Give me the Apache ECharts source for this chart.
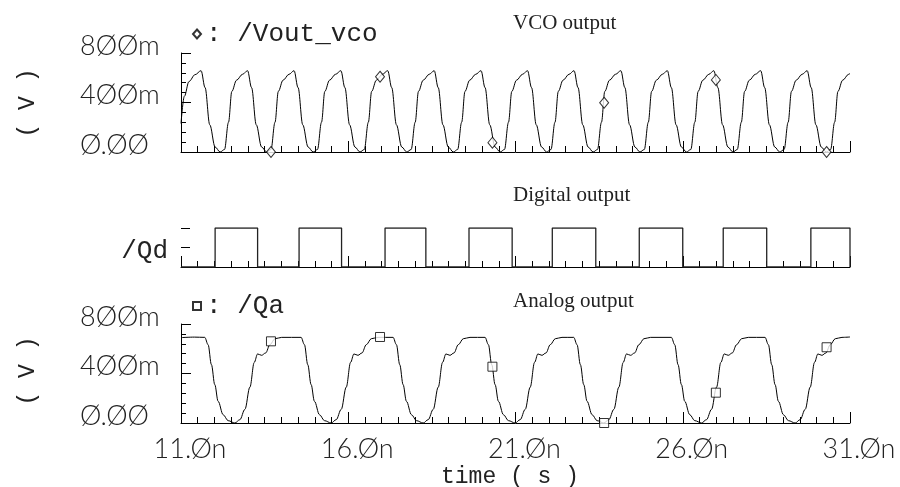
<!DOCTYPE html>
<html>
<head>
<meta charset="utf-8">
<script src="https://cdn.jsdelivr.net/npm/echarts@6.0.0/dist/echarts.min.js"></script>
<style>
html, body { margin: 0; padding: 0; background: #fff; }
#chart { width: 900px; height: 487px; }
</style>
</head>
<body>
<div id="chart"></div>
<script>
// time axis ticks (ns)
var timeTicks = [11, 16, 21, 26, 31];

// VCO output (ns, mV)
var vcoTime = [
  11.00, 11.10, 11.24, 11.42,
  11.60, 11.72, 11.86, 12.02, 12.17, 12.30, 12.42, 12.52, 12.66, 12.84,
  12.99, 13.11, 13.25, 13.41, 13.56, 13.69, 13.81, 13.91, 14.05, 14.23,
  14.38, 14.50, 14.64, 14.80, 14.95, 15.08, 15.20, 15.30, 15.44, 15.62,
  15.78, 15.90, 16.04, 16.20, 16.35, 16.48, 16.60, 16.70, 16.84, 17.02,
  17.18, 17.30, 17.44, 17.60, 17.75, 17.88, 18.00, 18.10, 18.24, 18.42,
  18.57, 18.69, 18.83, 18.99, 19.14, 19.27, 19.39, 19.49, 19.63, 19.81,
  19.97, 20.09, 20.23, 20.39, 20.54, 20.67, 20.79, 20.89, 21.03, 21.21,
  21.36, 21.48, 21.62, 21.78, 21.93, 22.06, 22.18, 22.28, 22.42, 22.60,
  22.75, 22.87, 23.01, 23.17, 23.32, 23.45, 23.57, 23.67, 23.81, 23.99,
  24.15, 24.27, 24.41, 24.57, 24.72, 24.85, 24.97, 25.07, 25.21, 25.39,
  25.54, 25.66, 25.80, 25.96, 26.11, 26.24, 26.36, 26.46, 26.60, 26.78,
  26.93, 27.05, 27.19, 27.35, 27.50, 27.63, 27.75, 27.85, 27.99, 28.17,
  28.33, 28.45, 28.59, 28.75, 28.90, 29.03, 29.15, 29.25, 29.39, 29.57,
  29.72, 29.84, 29.98, 30.14, 30.29, 30.42, 30.54, 30.64, 30.78, 30.96,
  31.00
];
var vcoVolt = [
  230, 450, 570, 625,
  657, 520, 220, 40, 0, 20, 240, 490, 580, 628,
  657, 520, 220, 40, 0, 20, 240, 490, 580, 628,
  657, 520, 220, 40, 0, 20, 240, 490, 580, 628,
  657, 520, 220, 40, 0, 20, 240, 490, 580, 628,
  657, 520, 220, 40, 0, 20, 240, 490, 580, 628,
  657, 520, 220, 40, 0, 20, 240, 490, 580, 628,
  657, 520, 220, 40, 0, 20, 240, 490, 580, 628,
  657, 520, 220, 40, 0, 20, 240, 490, 580, 628,
  657, 520, 220, 40, 0, 20, 240, 490, 580, 628,
  657, 520, 220, 40, 0, 20, 240, 490, 580, 628,
  657, 520, 220, 40, 0, 20, 240, 490, 580, 628,
  657, 520, 220, 40, 0, 20, 240, 490, 580, 628,
  657, 520, 220, 40, 0, 20, 240, 490, 580, 628,
  657, 520, 220, 40, 0, 20, 240, 490, 580, 628,
  635
];

// marker positions (same times on both analog panels)
var markTime = [13.69, 16.95, 20.31, 23.65, 26.99, 30.30];
var vcoMark = [0, 608, 75, 398, 582, 0];
var qaMark = [660, 695, 455, 0, 245, 612];

// Digital output: edge times and level after each edge
var qdTime = [11.00, 12.02, 13.29, 14.53, 15.80, 17.10, 18.32, 19.61, 20.90, 22.10, 23.40, 24.70, 26.00, 27.21, 28.51, 29.83, 31.00];
var qdLevel = [0, 1, 0, 1, 0, 1, 0, 1, 0, 1, 0, 1, 0, 1, 0, 1, 0];

// Analog output (ns, mV)
var qaTime = [
  11.00, 11.40,
  11.71, 11.81, 11.91, 12.01, 12.11, 12.26, 12.41, 12.61, 12.76, 12.91, 13.06, 13.19, 13.29, 13.41, 13.53, 13.66, 13.81, 14.01,
  14.59, 14.69, 14.79, 14.89, 14.99, 15.14, 15.29, 15.49, 15.64, 15.79, 15.94, 16.07, 16.17, 16.29, 16.41, 16.54, 16.69, 16.89,
  17.34, 17.44, 17.54, 17.64, 17.74, 17.89, 18.04, 18.24, 18.39, 18.54, 18.69, 18.82, 18.92, 19.04, 19.16, 19.29, 19.44, 19.64,
  20.09, 20.19, 20.29, 20.39, 20.49, 20.64, 20.79, 20.99, 21.14, 21.29, 21.44, 21.57, 21.67, 21.79, 21.91, 22.04, 22.19, 22.39,
  22.74, 22.84, 22.94, 23.04, 23.14, 23.29, 23.44, 23.64, 23.79, 23.94, 24.09, 24.22, 24.32, 24.44, 24.56, 24.69, 24.84, 25.04,
  25.66, 25.76, 25.86, 25.96, 26.06, 26.21, 26.36, 26.56, 26.71, 26.86, 27.01, 27.14, 27.24, 27.36, 27.48, 27.61, 27.76, 27.96,
  28.46, 28.56, 28.66, 28.76, 28.86, 29.01, 29.16, 29.36, 29.51, 29.66, 29.81, 29.94, 30.04, 30.16, 30.28, 30.41, 30.56, 30.76,
  31.00
];
var qaVolt = [
  690, 694,
  692, 633, 471, 310, 175, 67, 19, 0, 27, 110, 290, 490, 558, 547, 566, 633, 681, 692,
  692, 633, 471, 310, 175, 67, 19, 0, 27, 110, 290, 490, 558, 547, 566, 633, 681, 692,
  692, 633, 471, 310, 175, 67, 19, 0, 27, 110, 290, 490, 558, 547, 566, 633, 681, 692,
  692, 633, 471, 310, 175, 67, 19, 0, 27, 110, 290, 490, 558, 547, 566, 633, 681, 692,
  692, 633, 471, 310, 175, 67, 19, 0, 27, 110, 290, 490, 558, 547, 566, 633, 681, 692,
  692, 633, 471, 310, 175, 67, 19, 0, 27, 110, 290, 490, 558, 547, 566, 633, 681, 692,
  692, 633, 471, 310, 175, 67, 19, 0, 27, 110, 290, 490, 558, 547, 566, 633, 681, 692,
  695
];

function pairs(xs, ys) {
  return xs.map(function (x, i) { return [x, ys[i]]; });
}
// Cadence style slashed zeros
function slash(s) { return String(s).replace(/0/g, '\u00d8'); }

var myChart = echarts.init(document.getElementById('chart'), null, { renderer: 'canvas' });

var sans = 'Lato';
var mono = 'Liberation Mono';
var serif = 'Liberation Serif';
var ink = '#222';

function timeAxis(idx, showLabel) {
  return {
    type: 'value', gridIndex: idx, min: timeTicks[0], max: timeTicks[timeTicks.length - 1], interval: 5,
    axisLine: { show: true, lineStyle: { color: '#000', width: 1 } },
    axisTick: { show: true, inside: true, length: 11, lineStyle: { color: '#000' } },
    minorTick: { show: true, splitNumber: 10, length: 6, lineStyle: { color: '#000' } },
    splitLine: { show: false },
    axisLabel: {
      show: showLabel, margin: 13, fontSize: 27, fontFamily: sans, fontWeight: 300, color: ink,
      padding: [0, 0, 0, 18],
      formatter: function (v) { return slash(v.toFixed(1)) + 'n'; }
    }
  };
}

function voltAxis(idx) {
  return {
    type: 'value', gridIndex: idx, min: 0, max: 800, interval: 400,
    axisLine: { show: true, lineStyle: { color: '#000', width: 1 } },
    axisTick: { show: true, inside: true, length: 10, lineStyle: { color: '#000' } },
    minorTick: { show: true, splitNumber: 5, length: 5, lineStyle: { color: '#000' } },
    splitLine: { show: false },
    axisLabel: {
      margin: 101, align: 'left', verticalAlign: 'bottom', lineHeight: 14,
      fontSize: 27, fontFamily: sans, fontWeight: 300, color: ink,
      formatter: function (v) { return v === 0 ? slash('0.00') : slash(v) + 'm'; }
    }
  };
}

var option = {
  animation: false,
  backgroundColor: '#fff',
  grid: [
    { left: 181, top: 53, width: 669, height: 99 },
    { left: 181, top: 228, width: 669, height: 39 },
    { left: 181, top: 324, width: 669, height: 99 }
  ],
  xAxis: [timeAxis(0, false), timeAxis(1, false), timeAxis(2, true)],
  yAxis: [
    voltAxis(0),
    {
      type: 'value', gridIndex: 1, min: 0, max: 1, interval: 0.5,
      axisLine: { show: false },
      axisTick: { show: true, inside: true, length: 9, lineStyle: { color: '#000' } },
      splitLine: { show: false },
      axisLabel: { show: false }
    },
    voltAxis(2)
  ],
  legend: [
    {
      left: 192, top: 21, padding: 0, selectedMode: false,
      data: ['/Vout_vco'], itemWidth: 8, itemHeight: 9,
      formatter: ': {name}',
      textStyle: { fontFamily: mono, fontSize: 26, color: ink, lineHeight: 26 }
    },
    {
      left: 192, top: 293, padding: 0, selectedMode: false,
      data: ['/Qa'], itemWidth: 8, itemHeight: 8,
      formatter: ': {name}',
      textStyle: { fontFamily: mono, fontSize: 26, color: ink, lineHeight: 26 }
    }
  ],
  graphic: [
    { type: 'text', left: 513, top: 13, style: { text: 'VCO output', fontFamily: serif, fontSize: 21, fill: ink } },
    { type: 'text', left: 513, top: 185, style: { text: 'Digital output', fontFamily: serif, fontSize: 21, fill: ink } },
    { type: 'text', left: 513, top: 291, style: { text: 'Analog output', fontFamily: serif, fontSize: 21, fill: ink } },
    { type: 'text', x: 28, y: 103, rotation: Math.PI / 2,
      style: { text: '( V )', fontFamily: mono, fontSize: 23, fill: ink, align: 'center', verticalAlign: 'middle' } },
    { type: 'text', x: 28, y: 371, rotation: Math.PI / 2,
      style: { text: '( V )', fontFamily: mono, fontSize: 23, fill: ink, align: 'center', verticalAlign: 'middle' } },
    { type: 'text', x: 168, y: 251,
      style: { text: '/Qd', fontFamily: mono, fontSize: 26, fill: ink, align: 'right', verticalAlign: 'middle' } },
    { type: 'text', x: 510, y: 477,
      style: { text: 'time ( s )', fontFamily: mono, fontSize: 23, fill: ink, align: 'center', verticalAlign: 'middle' } }
  ],
  series: [
    {
      name: 'vco', type: 'line', xAxisIndex: 0, yAxisIndex: 0,
      data: pairs(vcoTime, vcoVolt), showSymbol: false, smooth: 0.35, smoothMonotone: 'x',
      lineStyle: { color: '#000', width: 1 }, z: 2
    },
    {
      name: '/Vout_vco', type: 'scatter', xAxisIndex: 0, yAxisIndex: 0,
      data: pairs(markTime, vcoMark), symbol: 'diamond', symbolSize: [9, 11],
      itemStyle: { color: '#fff', borderColor: '#000', borderWidth: 1 }, z: 3
    },
    {
      name: 'qd', type: 'line', xAxisIndex: 1, yAxisIndex: 1, step: 'end',
      data: pairs(qdTime, qdLevel), showSymbol: false,
      lineStyle: { color: '#222', width: 1.3 }
    },
    {
      name: 'qa', type: 'line', xAxisIndex: 2, yAxisIndex: 2,
      data: pairs(qaTime, qaVolt), showSymbol: false, smooth: 0.35, smoothMonotone: 'x',
      lineStyle: { color: '#000', width: 1 }, z: 2
    },
    {
      name: '/Qa', type: 'scatter', xAxisIndex: 2, yAxisIndex: 2,
      data: pairs(markTime, qaMark), symbol: 'rect', symbolSize: 9,
      itemStyle: { color: '#fff', borderColor: '#000', borderWidth: 1 }, z: 3
    }
  ]
};

myChart.setOption(option);
</script>
</body>
</html>
